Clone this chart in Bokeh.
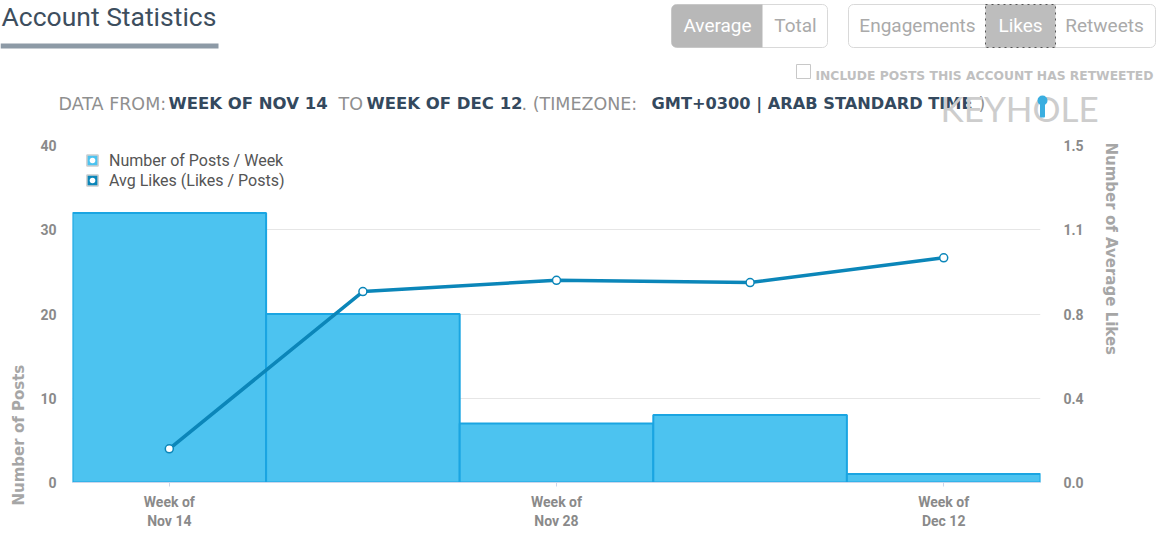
import math
from bokeh.plotting import figure
from bokeh.layouts import column, row
from bokeh.models import (Range1d, LinearAxis, FixedTicker, Label, BoxAnnotation,
                          Legend, LegendItem, ColumnDataSource)
from bokeh.embed import file_html
from bokeh.resources import INLINE

# ---------------- data ----------------
weeks = ["Week of\nNov 14", "Week of\nNov 21", "Week of\nNov 28", "Week of\nDec 5", "Week of\nDec 12"]
labelled_weeks = [0, 2, 4]
posts = [32, 20, 7, 8, 1]
avg_likes = [0.15, 0.85, 0.90, 0.89, 1.0]
left_ticks = [0, 10, 20, 30, 40]
right_ticks = [0, 0.375, 0.75, 1.125, 1.5]
right_tick_labels = ["0.0", "0.4", "0.8", "1.1", "1.5"]
series_names = ["Number of Posts / Week", "Avg Likes (Likes / Posts)"]

BAR = "#4cc3f0"
BAR_LINE = "#1aa5e2"
LINE = "#0b86b9"
FONT = "Roboto"
WIDE = "DejaVu Sans"
NAN = float("nan")

W, H = 1165, 533
HEAD_H = 130
FL, FR, FT, FB = 72, 1040, 145, 482
LEFT_W = 36
RIGHT_X = 1095
MAIN_W = RIGHT_X - LEFT_W
BODY_H = H - HEAD_H


def blank(width, height, x0, x1, y0, y1):
    f = figure(width=width, height=height, output_backend="svg", toolbar_location=None,
               x_range=Range1d(x0, x1), y_range=Range1d(y1, y0),
               x_axis_type=None, y_axis_type=None, min_border=0, frame_align=False)
    f.grid.visible = False
    f.outline_line_color = None
    f.background_fill_color = "white"
    f.border_fill_color = "white"
    return f


def lab(f, text, px, py, size, color, bold=False, align="left", baseline="middle", angle=0.0, font=FONT):
    f.add_layout(Label(x=px, y=py, text=text, text_font=font, text_font_size=size,
                       text_color=color, text_font_style="bold" if bold else "normal",
                       text_align=align, text_baseline=baseline, angle=angle))


def box(f, l, r, t, b, fill, line=None, radius=0, dash="solid", lw=1):
    f.add_layout(BoxAnnotation(left=l, right=r, top=t, bottom=b,
                               fill_color=fill if fill else "white", fill_alpha=1 if fill else 0,
                               line_color=line if line else "white", line_alpha=1 if line else 0,
                               line_dash=dash, line_width=lw, border_radius=radius))


# ---------------- header ----------------
hd = blank(W, HEAD_H, 0, W, 0, HEAD_H)
lab(hd, "Account Statistics", 1, 16, "26.5px", "#3d4e5e")
box(hd, 0, 218, 43, 48, "#8d9aa6")

box(hd, 671, 827, 4, 47, "white", "#d9d9d9", radius=5)
box(hd, 671, 762, 4, 47, "#b8b8b8", None, radius=(5, 0, 0, 5))
lab(hd, "Average", 717, 25, "19px", "white", align="center")
lab(hd, "Total", 795, 25, "19px", "#aaaaaa", align="center")

box(hd, 848, 1155, 4, 47, "white", "#d9d9d9", radius=5)
box(hd, 985, 1055, 4, 47, "#bdbdbd", "#555555", dash="dotted")
lab(hd, "Engagements", 917, 25, "19px", "#aaaaaa", align="center")
lab(hd, "Likes", 1020, 25, "19px", "white", align="center")
lab(hd, "Retweets", 1104, 25, "19px", "#aaaaaa", align="center")

box(hd, 796, 810, 64, 78, None, "#c8c8c8")
lab(hd, "INCLUDE POSTS THIS ACCOUNT HAS RETWEETED", 815, 75, "12.3px", "#c0c0c0", bold=True, font=WIDE)

GRAY = "#8f8f8f"
DARK = "#34495e"
lab(hd, "DATA FROM:", 58, 103, "17.5px", GRAY, font=WIDE)
lab(hd, "WEEK OF NOV 14", 168, 103, "16.5px", DARK, bold=True, font=WIDE)
lab(hd, "TO", 338, 103, "17.5px", GRAY, font=WIDE)
lab(hd, "WEEK OF DEC 12", 366, 103, "16.5px", DARK, bold=True, font=WIDE)
lab(hd, ". (TIMEZONE:", 521, 103, "17.5px", GRAY, font=WIDE)
lab(hd, "GMT+0300 | ARAB STANDARD TIME", 651, 103, "16.2px", DARK, bold=True, font=WIDE)
lab(hd, ")", 978, 103, "17.5px", GRAY, font=WIDE)

lab(hd, "KEYHOLE", 940, 107, "35px", "#cdcdcd", font="Lato")
box(hd, 1037, 1047, 95, 105, "#3aaee0", None, radius=5)
box(hd, 1039.5, 1044.5, 102, 117, "#3aaee0", None, radius=1)

# ---------------- side strips (rotated titles) ----------------
ls = blank(LEFT_W, BODY_H, 0, LEFT_W, HEAD_H, H)
lab(ls, "Number of Posts", 18, 505, "15px", "#a6a6a6", bold=True, align="left",
    angle=math.pi / 2, font=WIDE)

rs = blank(W - RIGHT_X, BODY_H, RIGHT_X, W, HEAD_H, H)
lab(rs, "Number of Average Likes", 1110, 142, "15px", "#a6a6a6", bold=True, align="left",
    angle=-math.pi / 2, font=WIDE)

# ---------------- main chart ----------------
p = figure(width=MAIN_W, height=BODY_H, output_backend="svg", toolbar_location=None,
           x_range=Range1d(-0.5, 4.5), y_range=Range1d(0, 40),
           min_border_left=FL - LEFT_W, min_border_right=RIGHT_X - FR,
           min_border_top=FT - HEAD_H, min_border_bottom=H - FB)
p.outline_line_color = None
p.background_fill_color = "white"
p.xgrid.visible = False
p.ygrid.grid_line_color = "#e6e6e6"
p.ygrid.grid_line_width = 1

xs = list(range(len(posts)))
src = ColumnDataSource(dict(x=xs, posts=posts, likes=avg_likes))

p.vbar(x="x", top="posts", bottom=0, width=1.0, source=src,
       fill_color=BAR, line_color=BAR_LINE, line_width=2)

p.extra_y_ranges = {"likes": Range1d(0, 1.5)}
p.line(x="x", y="likes", source=src, y_range_name="likes",
       line_color=LINE, line_width=3.5, line_join="round")
p.scatter(x="x", y="likes", source=src, y_range_name="likes", marker="circle",
          size=8, fill_color="white", line_color=LINE, line_width=1.5)

xa = p.xaxis[0]
xa.ticker = FixedTicker(ticks=labelled_weeks)
xa.major_label_overrides = {i: weeks[i] for i in labelled_weeks}
xa.axis_line_color = "#ccd6eb"
xa.major_tick_line_color = "#ccd6eb"
xa.major_tick_in = 0
xa.major_tick_out = 4
xa.minor_tick_line_color = None
xa.major_label_text_font = FONT
xa.major_label_text_font_size = "14px"
xa.major_label_text_font_style = "bold"
xa.major_label_text_color = "#8a8a8a"
xa.major_label_standoff = 7

ya = p.yaxis[0]
ya.ticker = FixedTicker(ticks=left_ticks)
ya.axis_line_color = None
ya.major_tick_line_color = None
ya.minor_tick_line_color = None
ya.major_label_text_font = FONT
ya.major_label_text_font_size = "14px"
ya.major_label_text_font_style = "bold"
ya.major_label_text_color = "#8a8a8a"
ya.major_label_standoff = 10

ra = LinearAxis(y_range_name="likes", ticker=FixedTicker(ticks=right_ticks))
ra.major_label_overrides = {t: l for t, l in zip(right_ticks, right_tick_labels)}
ra.axis_line_color = None
ra.major_tick_line_color = None
ra.minor_tick_line_color = None
ra.major_label_text_font = FONT
ra.major_label_text_font_size = "14px"
ra.major_label_text_font_style = "bold"
ra.major_label_text_color = "#8a8a8a"
ra.major_label_standoff = 17
p.add_layout(ra, "right")

# legend (dummy renderers with NaN data so only the legend glyphs show)
q1 = p.quad(left=[NAN], right=[NAN], top=[NAN], bottom=[NAN], fill_color=BAR, line_color="#cfcfcf", line_width=1.5)
d1 = p.scatter(x=[NAN], y=[NAN], marker="circle", size=3, fill_color="white", line_color=None)
q2 = p.quad(left=[NAN], right=[NAN], top=[NAN], bottom=[NAN], fill_color=LINE, line_color="#cfcfcf", line_width=1.5)
d2 = p.scatter(x=[NAN], y=[NAN], marker="circle", size=3, fill_color="white", line_color=None)
legend = Legend(items=[LegendItem(label=series_names[0], renderers=[q1, d1]),
                       LegendItem(label=series_names[1], renderers=[q2, d2])],
                location=(5, 284), margin=0, padding=8, spacing=0,
                glyph_width=14, glyph_height=14, label_height=20, label_standoff=10,
                label_text_font=FONT, label_text_font_size="16px", label_text_color="#555555",
                border_line_alpha=0, background_fill_alpha=0)
p.add_layout(legend, "center")

layout = column(hd, row(ls, p, rs, spacing=0), spacing=0)
open("out.html", "w").write(file_html(layout, INLINE))
